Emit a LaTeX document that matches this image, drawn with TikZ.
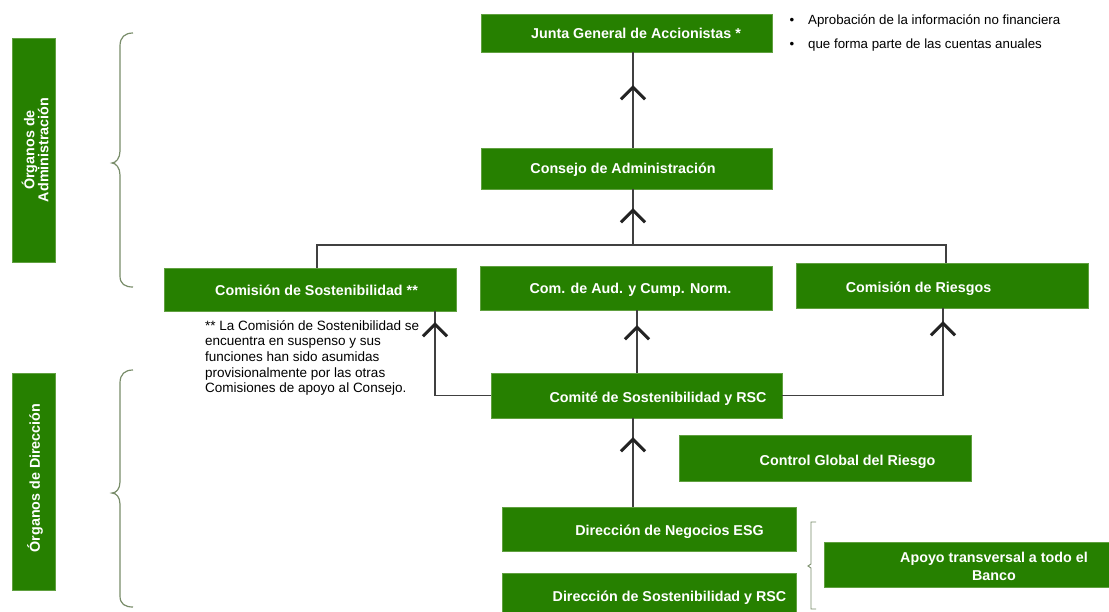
\documentclass[tikz,border=0pt]{standalone}
\usepackage{fontspec}
\setmainfont{Liberation Sans}
\usetikzlibrary{decorations.markings,calc}
\definecolor{grfill}{RGB}{38,128,0}
\definecolor{grline}{RGB}{96,160,64}
\definecolor{cgray}{RGB}{64,64,64}
\definecolor{brcol}{RGB}{120,140,105}
\begin{document}
\begin{tikzpicture}[x=1pt,y=-1pt,
  gbox/.style={fill=grfill,draw=grline,line width=0.6pt,inner sep=0pt,minimum width=292,minimum height=#1},
  btxt/.style={text=white,font=\bfseries\fontsize{14.3}{16}\selectfont,inner sep=0pt,text height=10.2pt,text depth=0pt},
  vtxt/.style={text=white,font=\bfseries\fontsize{14.3}{14}\selectfont,inner sep=0pt,rotate=90,align=center},
  cline/.style={draw=cgray,line width=1.5pt},
  chev/.style={postaction={decorate,decoration={markings,mark=at position #1 with {\draw[line width=3pt,draw={rgb,255:red,35;green,35;blue,35}] (-12pt,12pt) -- (0pt,0pt) -- (-12pt,-12pt);}}}},
  brace/.style={draw=brcol,line width=1.2pt},
  note/.style={font=\fontsize{13.5}{15.7}\selectfont,inner sep=0pt,align=left},
  bul/.style={font=\fontsize{13.3}{15}\selectfont,inner sep=0pt}
]
\clip (0,0) rectangle (1109,611);
% side labels
\node[gbox=224,minimum width=43] (adm) at (33.5,150) {};
\node[vtxt] (admt) at (35,150) {Órganos de\\Administración};
\node[gbox=217,minimum width=43] (dir) at (33.5,481.5) {};
\node[vtxt] (dirt) at (35,478) {Órganos de Dirección};
% braces
\draw[brace] (133,33) .. controls (125,33) and (120,37) .. (120,46) -- (120,151) .. controls (120,158) and (116,163) .. (112,163) .. controls (116,163) and (120,168) .. (120,175) -- (120,276) .. controls (120,284) and (125,287) .. (133,287);
\draw[brace] (133,370) .. controls (125,370) and (120,374) .. (120,383) -- (120,482) .. controls (120,489) and (116,493) .. (112,493) .. controls (116,493) and (120,497) .. (120,504) -- (120,596) .. controls (120,604) and (125,607) .. (133,607);
\draw[brace,line width=0.9pt] (816,522) -- (811,522) -- (811,564) -- (808,566) -- (811,568) -- (811,609) -- (816,609);
% boxes
\node[gbox=38,minimum width=291] (junta) at (626.5,33) {};
\node[btxt] (juntat) at (636,33) {Junta General de Accionistas *};
\node[gbox=41,minimum width=291] (consejo) at (626.5,168.5) {};
\node[btxt] (consejot) at (623,168) {Consejo de Administración};
\node[gbox=43] (sost) at (310,289.5) {};
\node[btxt] (sostt) at (316.5,290) {Comisión de Sostenibilidad **};
\node[gbox=44] (comaud) at (626,288) {};
\node[btxt] (comaudt) at (630.5,288) {Com. de Aud. y Cump. Norm.};
\node[gbox=45] (riesgos) at (942,285.5) {};
\node[btxt] (riesgost) at (918.5,287) {Comisión de Riesgos};
\node[gbox=45,minimum width=291] (comite) at (636.5,395.5) {};
\node[btxt] (comitet) at (658,397) {Comité de Sostenibilidad y RSC};
\node[gbox=46] (control) at (825,458) {};
\node[btxt] (controlt) at (847.5,460) {Control Global del Riesgo};
\node[gbox=44,minimum width=294] (dneg) at (649,529) {};
\node[btxt] (dnegt) at (669.5,530) {Dirección de Negocios ESG};
\node[gbox=42,minimum width=294] (dsost) at (649,594) {};
\node[btxt] (dsostt) at (669.5,596) {Dirección de Sostenibilidad y RSC};
\node[gbox=45] (apoyo) at (970,564.5) {};
\node[text=white,inner sep=0pt,align=center,font=\bfseries\fontsize{14.3}{18}\selectfont] (apoyot) at (994,566) {Apoyo transversal a todo el\\Banco};
% texts
\node[note,anchor=north west] (nota) at (205,320) {** La Comisión de Sostenibilidad se\\encuentra en suspenso y sus\\funciones han sido asumidas\\provisionalmente por las otras\\Comisiones de apoyo al Consejo.};
\node[bul,anchor=base] (b1) at (792,24) {•};
\node[bul,anchor=base west] (l1) at (808,24) {Aprobación de la información no financiera};
\node[bul,anchor=base] (b2) at (792,48) {•};
\node[bul,anchor=base west] (l2) at (808,48) {que forma parte de las cuentas anuales};
% connectors
\coordinate (bus) at (633,245);
\coordinate (xl) at (435,0);
\coordinate (xr) at (943,0);
\coordinate (xm) at (637,0);
\draw[cline] ([xshift=7pt]sost.north) |- (bus) -| ([xshift=4pt]riesgos.north);
\draw[cline,chev=-21pt] (bus) -- (consejo.south -| bus);
\draw[cline,chev=-35pt] (consejo.north -| bus) -- (junta.south -| bus);
\draw[cline,chev=-13pt] (comite.west) -| (sost.south -| xl);
\draw[cline,chev=-17pt] (comite.north -| xm) -- (comaud.south -| xm);
\draw[cline,chev=-15pt] (comite.east) -| (riesgos.south -| xr);
\draw[cline,chev=-21pt] (dneg.north -| bus) -- (comite.south -| bus);
\end{tikzpicture}
\end{document}
